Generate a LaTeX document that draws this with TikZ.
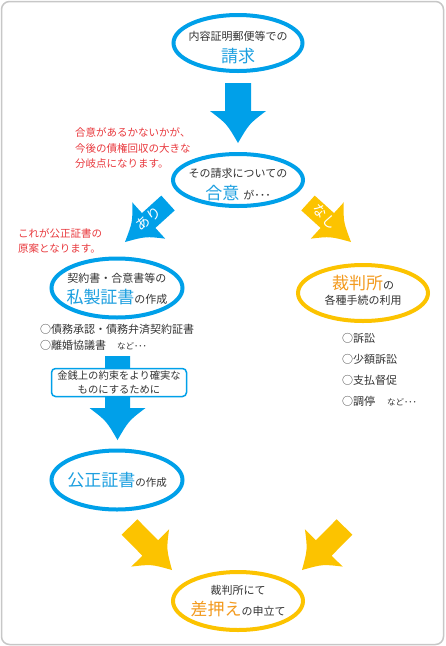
\documentclass[tikz,border=0pt]{standalone}
\usepackage{fontspec}
\setmainfont{Noto Sans CJK JP}
\usepackage{tikz}
\usepackage{xcolor}
\usetikzlibrary{shapes.geometric,calc}

\definecolor{ringblue}{HTML}{00A0E9}
\definecolor{textblue}{HTML}{1C9FE0}
\definecolor{ringyellow}{HTML}{FCC300}
\definecolor{textorange}{HTML}{F39A1E}
\definecolor{notered}{HTML}{E8383D}
\definecolor{darktext}{HTML}{333333}

\newcommand\bigjp{\fontsize{17}{20}\selectfont}
\newcommand\smalljp{\fontsize{8.5}{10}\selectfont}

% block arrow: colour, tail, tip, shaft half width, head half width, head length
\newcommand\fatarrow[6]{%
  \coordinate (neck) at ($(#3)!#6!(#2)$);
  \coordinate (wingl) at ($(neck)!#5!90:(#3)$);
  \coordinate (wingr) at ($(neck)!#5!-90:(#3)$);
  \fill[#1] ($(#2)!#4!90:(#3)$) -- ($(neck)!#4!90:(#3)$) -- (wingl)
    .. controls ($(wingl)!.5!(#3)!.2!(neck)$) .. (#3)
    .. controls ($(wingr)!.5!(#3)!.2!(neck)$) .. (wingr)
    -- ($(neck)!#4!-90:(#3)$) -- ($(#2)!#4!-90:(#3)$) -- cycle;}

\begin{document}
\begin{tikzpicture}[x=1pt,y=-1pt,
    ring/.style={ellipse, line width=4pt, inner sep=0pt, fill=white},
    bluering/.style={ring, draw=ringblue},
    yellowring/.style={ring, draw=ringyellow},
    jp/.style={text=darktext, align=center, inner sep=0pt},
    note/.style={text=notered, font=\fontsize{10.5}{15.5}\selectfont, align=left, anchor=west, inner sep=0pt},
    item/.style={text=darktext, align=left, anchor=west, inner sep=0pt},
    arrowlabel/.style={text=white, font=\fontsize{14}{14}\selectfont, inner sep=0pt}]
    \useasboundingbox (0,0) rectangle (445,646);
    \draw[black!22, line width=1.5pt, rounded corners=8pt] (1.5,1.5) rectangle (443.5,644.5);

    \coordinate (reqtail) at (238,83);
    \coordinate (reqtip) at (238,143);
    \coordinate (yestail) at (168,203);
    \coordinate (yestip) at (125,242);
    \coordinate (notail) at (308,203);
    \coordinate (notip) at (351,242);
    \coordinate (privtail) at (117.5,356);
    \coordinate (privtip) at (117.5,440);
    \coordinate (notarytail) at (129.5,527);
    \coordinate (notarytip) at (172,570);
    \coordinate (courttail) at (344.5,527);
    \coordinate (courttip) at (302,570);

    \fatarrow{ringblue}{reqtail}{reqtip}{13pt}{28pt}{32pt}
    \fatarrow{ringblue}{yestail}{yestip}{10pt}{24.5pt}{32pt}
    \fatarrow{ringyellow}{notail}{notip}{10pt}{24.5pt}{32pt}
    \fatarrow{ringblue}{privtail}{privtip}{12.5pt}{28pt}{32pt}
    \fatarrow{ringyellow}{notarytail}{notarytip}{11pt}{26.5pt}{31pt}
    \fatarrow{ringyellow}{courttail}{courttip}{11pt}{26.5pt}{31pt}

    \node[bluering, minimum width=129pt, minimum height=56pt] (req) at (238,43) {};
    \node[bluering, minimum width=130pt, minimum height=52pt] (agree) at (238,180) {};
    \node[bluering, minimum width=131pt, minimum height=59pt] (priv) at (117,288) {};
    \node[yellowring, minimum width=130pt, minimum height=56pt] (court) at (363,293) {};
    \node[bluering, minimum width=131pt, minimum height=59pt] (notary) at (117,480) {};
    \node[yellowring, minimum width=130pt, minimum height=58pt] (seize) at (238,601) {};

    \node[jp, font=\fontsize{11}{22.5}\selectfont] (reqtext) at (238,47.5) {内容証明郵便等での\\{\bigjp\color{textblue}請求}};
    \node[jp, font=\fontsize{11}{22}\selectfont] (agreetext) at (238,185) {その請求についての\\{\bigjp\color{textblue}合意}\hspace{4pt}が･･･};
    \node[jp, font=\fontsize{11}{20.5}\selectfont] (privtext) at (117,289) {契約書・合意書等の\\{\bigjp\color{textblue}私製証書}の作成};
    \node[jp, font=\fontsize{11}{15}\selectfont] (courttext) at (363,290) {{\bigjp\color{textorange}裁判所}の\\各種手続の利用};
    \node[jp, font=\fontsize{10.5}{15}\selectfont] (notarytext) at (117,480) {{\bigjp\color{textblue}公正証書}の作成};
    \node[jp, font=\fontsize{11}{21}\selectfont] (seizetext) at (238,601) {裁判所にて\\{\bigjp\color{textorange}差押え}の申立て};

    \node[arrowlabel, rotate=37] (yeslabel) at (148.5,218.5) {あり};
    \node[arrowlabel, rotate=-47] (nolabel) at (325,216.5) {なし};

    \node[note] (agreenote) at (75,148) {合意があるかないかが、\\今後の債権回収の大きな\\分岐点になります。};
    \node[note] (draftnote) at (18,241) {これが公正証書の\\原案となります。};

    \node[item, font=\fontsize{11}{16}\selectfont] (privlist) at (40,337) {○債務承認・債務弁済契約証書\\○離婚協議書\hspace{11pt}{\smalljp など･･･}};
    \node[item, font=\fontsize{11}{21}\selectfont] (courtlist) at (342,370) {○訴訟\\○少額訴訟\\○支払督促\\○調停\hspace{12pt}{\smalljp など･･･}};

    \node[draw=ringblue, line width=1.5pt, rounded corners=4pt, fill=white, minimum width=135pt, minimum height=28pt, inner sep=0pt, text=darktext, font=\fontsize{10.3}{14}\selectfont, align=center] (purpose) at (119,382.5) {金銭上の約束をより確実な\\ものにするために};
\end{tikzpicture}
\end{document}
